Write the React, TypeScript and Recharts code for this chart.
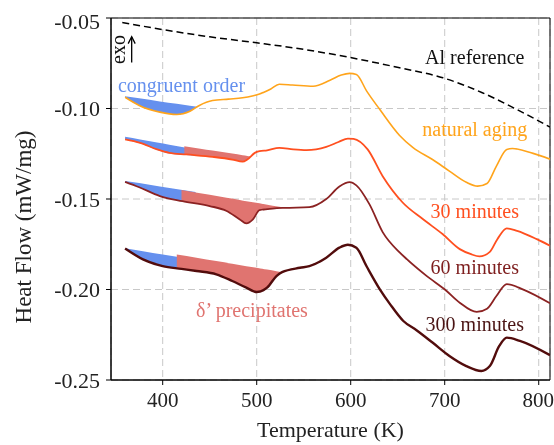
import React from "react";
import {
  ComposedChart,
  Line,
  Area,
  XAxis,
  YAxis,
  CartesianGrid,
  ReferenceArea,
  ReferenceDot,
  ReferenceLine,
  Label,
} from "recharts";

const FONT = "'Liberation Serif', 'Times New Roman', serif";

// x ticks / y ticks
const xTicks = [400, 500, 600, 700, 800];
const yTicks = [-0.25, -0.2, -0.15, -0.1, -0.05];

// Al reference (dashed)
const alT = [357, 400, 450, 500, 546, 598, 652, 698, 740, 777, 812];
const alHF = [-0.0525, -0.0564, -0.0604, -0.0637, -0.067, -0.0717, -0.0775, -0.083, -0.0913, -0.1006, -0.1103];

// natural aging
const agingT = [360, 375, 397, 415, 429, 439, 453, 470, 485, 503, 515, 524, 538, 560, 578, 590, 599, 606, 617, 631, 652, 666, 687, 705, 723, 735, 745, 755, 766, 772, 794, 812];
const agingHF = [-0.0938, -0.0983, -0.102, -0.1033, -0.1015, -0.0983, -0.0956, -0.0948, -0.0941, -0.092, -0.0892, -0.0866, -0.087, -0.0877, -0.0844, -0.0815, -0.0806, -0.0812, -0.0904, -0.1006, -0.1149, -0.1215, -0.1282, -0.1346, -0.1408, -0.1429, -0.1414, -0.1318, -0.1226, -0.1221, -0.1248, -0.128];

// 30 minutes
const m30T = [360, 376, 394, 407, 425, 453, 474, 485, 490, 498, 503, 511, 524, 539, 553, 574, 587, 597, 603, 618, 634, 655, 677, 698, 716, 728, 737, 748, 756, 766, 777, 798, 812];
const m30HF = [-0.1171, -0.119, -0.1226, -0.1245, -0.1254, -0.1267, -0.1282, -0.1294, -0.1282, -0.1245, -0.1236, -0.1231, -0.1217, -0.1226, -0.123, -0.1212, -0.1185, -0.1166, -0.1168, -0.1226, -0.1374, -0.1518, -0.1612, -0.1695, -0.1777, -0.1805, -0.1817, -0.1792, -0.1722, -0.1662, -0.1676, -0.1722, -0.1758];

// 60 minutes
const m60T = [360, 375, 397, 421, 450, 468, 482, 489, 496, 503, 517, 530, 556, 574, 588, 599, 606, 620, 634, 652, 660, 681, 702, 716, 734, 745, 755, 766, 783, 812];
const m60HF = [-0.1405, -0.1435, -0.1484, -0.1512, -0.1539, -0.1566, -0.1613, -0.1635, -0.1613, -0.1562, -0.1553, -0.1549, -0.1545, -0.15, -0.1431, -0.1407, -0.1425, -0.153, -0.1683, -0.1795, -0.1834, -0.1926, -0.2008, -0.2073, -0.2124, -0.2106, -0.2036, -0.197, -0.1999, -0.2076];

// 300 minutes
const m300T = [360, 379, 400, 420, 436, 457, 474, 489, 500, 511, 521, 527, 546, 556, 574, 588, 597, 606, 617, 631, 642, 656, 670, 687, 705, 723, 739, 748, 758, 766, 780, 812];
const m300HF = [-0.1774, -0.1834, -0.1871, -0.1886, -0.1898, -0.1916, -0.1953, -0.199, -0.2014, -0.199, -0.1926, -0.1904, -0.188, -0.1871, -0.1824, -0.1769, -0.1753, -0.1769, -0.1873, -0.1999, -0.2082, -0.2174, -0.2225, -0.2293, -0.2367, -0.2423, -0.245, -0.2423, -0.2312, -0.2266, -0.2284, -0.2363];

// congruent order (blue) bands: curve and straight baseline
const blueAgingT = [360, 375, 397, 415, 429, 437];
const blueAgingLo = [-0.0936, -0.0983, -0.102, -0.1033, -0.1015, -0.0992];
const blueAgingHi = [-0.0933, -0.0944, -0.0961, -0.0974, -0.0985, -0.0991];

const blue30T = [360, 376, 394, 407, 425, 437];
const blue30Lo = [-0.1171, -0.1192, -0.1229, -0.1249, -0.1257, -0.1262];
const blue30Hi = [-0.1156, -0.1171, -0.1188, -0.12, -0.1217, -0.1229];

const blue60T = [360, 375, 397, 421, 435];
const blue60Lo = [-0.1405, -0.1435, -0.1484, -0.1512, -0.1525];
const blue60Hi = [-0.14, -0.1412, -0.1431, -0.145, -0.1462];

const blue300T = [360, 379, 400, 420, 437];
const blue300Lo = [-0.1774, -0.1834, -0.1871, -0.1886, -0.1899];
const blue300Hi = [-0.1772, -0.1788, -0.1806, -0.1823, -0.1837];

// delta' precipitates (red) bands
const red30T = [423, 440, 453, 474, 485, 490, 493];
const red30Lo = [-0.1253, -0.1261, -0.1267, -0.1282, -0.1294, -0.1282, -0.1266];
const red30Hi = [-0.1208, -0.1222, -0.1232, -0.1249, -0.1258, -0.1262, -0.1264];

const red60T = [420, 450, 468, 482, 489, 496, 503, 517, 531];
const red60Lo = [-0.1511, -0.1539, -0.1566, -0.1613, -0.1635, -0.1613, -0.1562, -0.1553, -0.1549];
const red60Hi = [-0.145, -0.1477, -0.1493, -0.1505, -0.1512, -0.1518, -0.1524, -0.1537, -0.1549];

const red300T = [415, 436, 457, 474, 489, 500, 511, 521, 527];
const red300Lo = [-0.1884, -0.1898, -0.1916, -0.1953, -0.199, -0.2014, -0.199, -0.1926, -0.1904];
const red300Hi = [-0.1806, -0.1824, -0.1843, -0.1858, -0.1871, -0.188, -0.189, -0.1899, -0.1904];

const ORANGE = "#FFA41B";
const RED = "#FF4F1F";
const BROWN = "#8B2222";
const DARK = "#520C0C";
const BLUE = "#6590EE";
const SALMON = "#E07470";

const toPoints = (ts: number[], vs: number[]) => ts.map((T, i) => ({ T, v: vs[i] }));
const toBand = (ts: number[], lo: number[], hi: number[]) =>
  ts.map((T, i) => ({ T, band: [lo[i], hi[i]] }));

const curves = [
  { key: "aging", data: toPoints(agingT, agingHF), color: ORANGE, width: 1.6 },
  { key: "m30", data: toPoints(m30T, m30HF), color: RED, width: 1.8 },
  { key: "m60", data: toPoints(m60T, m60HF), color: BROWN, width: 1.8 },
  { key: "m300", data: toPoints(m300T, m300HF), color: DARK, width: 2.4 },
];

const bands = [
  { key: "bA", data: toBand(blueAgingT, blueAgingLo, blueAgingHi), color: BLUE },
  { key: "b30", data: toBand(blue30T, blue30Lo, blue30Hi), color: BLUE },
  { key: "b60", data: toBand(blue60T, blue60Lo, blue60Hi), color: BLUE },
  { key: "b300", data: toBand(blue300T, blue300Lo, blue300Hi), color: BLUE },
  { key: "r30", data: toBand(red30T, red30Lo, red30Hi), color: SALMON },
  { key: "r60", data: toBand(red60T, red60Lo, red60Hi), color: SALMON },
  { key: "r300", data: toBand(red300T, red300Lo, red300Hi), color: SALMON },
];

const notes = [
  { text: "Al reference", T: 732, hf: -0.0718, color: "#111" },
  { text: "natural aging", T: 732, hf: -0.1116, color: ORANGE },
  { text: "30 minutes", T: 732, hf: -0.1569, color: RED },
  { text: "60 minutes", T: 732, hf: -0.1878, color: "#7E1E1E" },
  { text: "300 minutes", T: 732, hf: -0.2192, color: "#4A1414" },
  { text: "congruent order", T: 420, hf: -0.0868, color: BLUE },
  { text: "\u03b4\u2019 precipitates", T: 495, hf: -0.2115, color: SALMON },
];

const noteShape = (text: string, color: string, angle = 0) => (p: any) => (
  <text
    x={p.cx}
    y={p.cy}
    textAnchor="middle"
    dominantBaseline="central"
    fill={color}
    style={{ fontFamily: FONT, fontSize: 20 }}
    transform={angle ? `rotate(${angle} ${p.cx} ${p.cy})` : undefined}
  >
    {text}
  </text>
);

const arrowHead = (p: any) => (
  <path
    d={`M ${p.cx - 3.5} ${p.cy + 7} L ${p.cx} ${p.cy} L ${p.cx + 3.5} ${p.cy + 7}`}
    fill="none"
    stroke="#000"
    strokeWidth={1.3}
  />
);

const XTitle = (props: any) => {
  const vb = props.viewBox;
  return (
    <text x={vb.x + vb.width / 2} y={vb.y + 57} textAnchor="middle" style={{ fontFamily: FONT, fontSize: 22 }} fill="#222">
      Temperature (K)
    </text>
  );
};

const YTitle = (props: any) => {
  const vb = props.viewBox;
  const x = 15;
  const y = vb.y + vb.height / 2 + 28;
  return (
    <text
      x={x}
      y={y}
      textAnchor="middle"
      dominantBaseline="central"
      style={{ fontFamily: FONT, fontSize: 23 }}
      fill="#222"
      transform={`rotate(-90 ${x} ${y})`}
    >
      Heat Flow (mW/mg)
    </text>
  );
};

export default function App() {
  const yTickStyle = { fontSize: 22, fill: "#222", fontFamily: FONT };
  const xTickStyle = { fontSize: 21, fill: "#222", fontFamily: FONT };
  return (
    <div style={{ position: "fixed", left: 8, top: 8, width: 546, height: 437 }}>
      <ComposedChart
        width={546}
        height={437}
        margin={{ top: 10, right: 4, bottom: 0, left: 0 }}
        style={{ fontFamily: FONT, overflow: "visible" }}
      >
        <CartesianGrid stroke="#c8c8c8" strokeDasharray="7 4" />
        <XAxis
          type="number"
          dataKey="T"
          domain={[345, 812]}
          allowDataOverflow
          ticks={xTicks}
          height={65}
          tick={xTickStyle}
          tickSize={5}
          tickMargin={7}
          stroke="#000"
        >
          <Label content={<XTitle />} />
        </XAxis>
        <YAxis
          type="number"
          domain={[-0.25, -0.05]}
          allowDataOverflow
          ticks={yTicks}
          width={103}
          tick={yTickStyle}
          tickSize={5}
          tickMargin={6}
          tickFormatter={(v: number) => v.toFixed(2)}
          stroke="#000"
        >
          <Label content={<YTitle />} />
        </YAxis>
        <ReferenceArea x1={345} x2={812} y1={-0.25} y2={-0.05} fill="none" stroke="#000" strokeWidth={1} />
        {bands.map((b) => (
          <Area
            key={b.key}
            data={b.data}
            dataKey="band"
            type="monotone"
            stroke="none"
            fill={b.color}
            fillOpacity={1}
            isAnimationActive={false}
            dot={false}
            activeDot={false}
          />
        ))}
        <Line
          data={toPoints(alT, alHF)}
          dataKey="v"
          type="monotone"
          stroke="#000"
          strokeWidth={1.5}
          strokeDasharray="7 4"
          dot={false}
          activeDot={false}
          isAnimationActive={false}
        />
        {curves.map((c) => (
          <Line
            key={c.key}
            data={c.data}
            dataKey="v"
            type="monotone"
            stroke={c.color}
            strokeWidth={c.width}
            dot={false}
            activeDot={false}
            isAnimationActive={false}
          />
        ))}
        {notes.map((n) => (
          <ReferenceDot key={n.text} x={n.T} y={n.hf} r={0} shape={noteShape(n.text, n.color)} />
        ))}
        <ReferenceDot x={352} y={-0.0674} r={0} shape={noteShape("exo", "#111", -90)} />
        <ReferenceLine
          segment={[
            { x: 367, y: -0.0746 },
            { x: 367, y: -0.0605 },
          ]}
          stroke="#000"
          strokeWidth={1.3}
        />
        <ReferenceDot x={367} y={-0.0603} r={0} shape={arrowHead} />
      </ComposedChart>
    </div>
  );
}
